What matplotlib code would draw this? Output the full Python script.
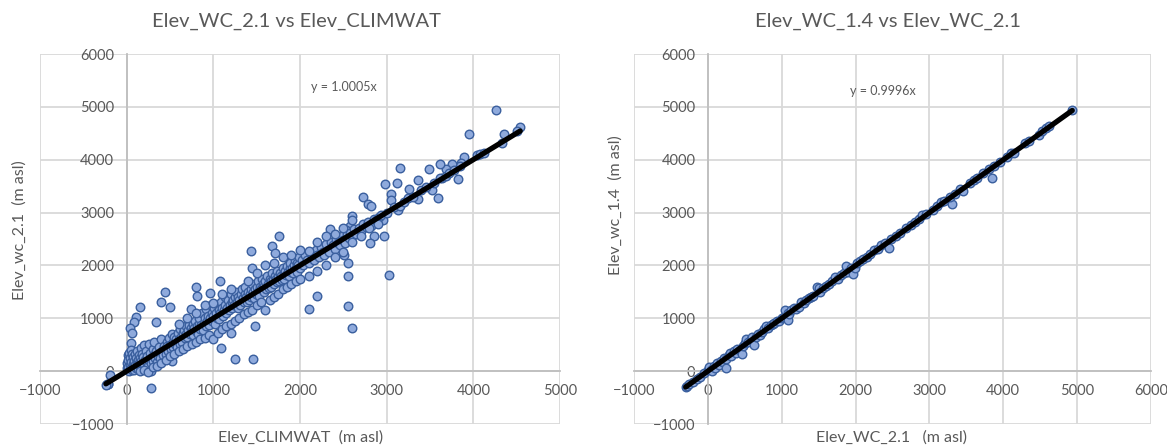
import matplotlib
matplotlib.use("Agg")
import matplotlib.pyplot as plt
import numpy as np

plt.rcParams['font.family'] = ['Lato', 'DejaVu Sans']

# ---------------- data ----------------
titles = ["Elev_WC_2.1 vs Elev_CLIMWAT", "Elev_WC_1.4 vs Elev_WC_2.1"]
xlabels = ["Elev_CLIMWAT  (m asl)", "Elev_WC_2.1   (m asl)"]
ylabels = ["Elev_wc_2.1  (m asl)", "Elev_wc_1.4  (m asl)"]
slopes = [1.0005, 0.9996]
eq_labels = ["y = 1.0005x", "y = 0.9996x"]
xticks_left = [-1000, 0, 1000, 2000, 3000, 4000, 5000]
xticks_right = [-1000, 0, 1000, 2000, 3000, 4000, 5000, 6000]
yticks = [-1000, 0, 1000, 2000, 3000, 4000, 5000, 6000]

# Left panel: Elev_CLIMWAT (x) vs Elev_WC_2.1 (y)
clim_x = [
    # outliers / isolated points
    4260, 3950, 4541, 4506, 4356, 4326, 4047, 4077, 4120, 3888, 3863, 3828, 3850,
    3755, 3690, 3618, 3640, 3159, 3489, 3519, 3592, 3361, 3262, 3356, 3116, 2983,
    3047, 3047, 3133, 2961, 2725, 2790, 2820, 2970, 2854, 2803, 2596, 2575, 2532,
    2348, 3026, 2554, 2554, 2554, 2601, 2511, 2197, 2103, 1760, 1674, 1717, 1438,
    1442, 1476, 1459, 1253, 1090, 1202, 1073, 803, 815, 957, 446, 395, 502, 738,
    150, 107, 86, 43, 56, 52, 335, 270, 279, -215, -193, 524, 283, -230, -220, -240,
    # dense band
    0, 5, 10, 15, 20, 25, 30, 35, 40, 45, 50, 55, 60, 65, 70, 75, 80, 85, 90, 95,
    100, 105, 110, 115, 120, 125, 130, 135, 140, 145, 150, 155, 160, 165, 170, 175,
    180, 185, 190, 195, 200, 210, 220, 230, 240, 250, 255, 260, 270, 280, 290, 300,
    305, 310, 320, 330, 340, 350, 360, 370, 380, 390, 400, 410, 420, 430, 440, 450,
    460, 470, 480, 490, 500, 510, 520, 530, 540, 550, 560, 570, 580, 590, 600, 610,
    620, 630, 640, 650, 660, 670, 680, 690, 700, 710, 720, 730, 740, 750, 760, 770,
    780, 790, 800, 810, 820, 830, 840, 850, 860, 870, 880, 890, 900, 910, 920, 930,
    940, 950, 960, 970, 980, 990, 1000, 1010, 1020, 1030, 1040, 1050, 1060, 1070,
    1080, 1090, 1100, 1110, 1120, 1130, 1140, 1150, 1160, 1170, 1180, 1190, 1200,
    1210, 1220, 1230, 1240, 1250, 1260, 1270, 1280, 1290, 1300, 1310, 1320, 1330,
    1340, 1350, 1360, 1370, 1380, 1390, 1400, 1410, 1420, 1430, 1440, 1450, 1460,
    1470, 1480, 1490, 1500, 1510, 1520, 1530, 1540, 1550, 1560, 1570, 1580, 1590,
    1600, 1610, 1620, 1630, 1640, 1650, 1660, 1670, 1680, 1690, 1700, 1710, 1720,
    1730, 1740, 1750, 1760, 1770, 1780, 1790, 1800, 1810, 1820, 1830, 1840, 1850,
    1860, 1870, 1880, 1890, 1900, 1910, 1920, 1930, 1940, 1950, 1960, 1970, 1980,
    1990, 2000, 2020, 2040, 2060, 2080, 2100, 2120, 2140, 2160, 2180, 2200, 2220,
    2240, 2260, 2280, 2300, 2320, 2340, 2360, 2380, 2400, 2420, 2440, 2460, 2480,
    2500, 2520, 2540, 2560, 2580, 2600, 2620, 2650, 2680, 2700, 2730, 2760, 2790,
    2820, 2850, 2880, 2910, 2940, 3000, 3080, 3150, 3200, 3250, 3300, 3400, 3450,
    3550, 3620, 3680, 3720, 3780,
    # lower edge of band
    150, 200, 250, 300, 350, 400, 450, 500, 550, 600, 650, 700, 750, 800, 850, 900,
    950, 1000, 1050, 1100, 1150, 1200, 1250, 1300, 1350, 1400, 1450, 1500, 1550,
    1600, 1650, 1700, 1750, 1800, 1850, 1900, 1950, 2000, 2100, 2200, 2300, 2400,
    2500, 2600, 2700, 2800, 2900,
    # upper edge of band
    600, 700, 800, 900, 1000, 1100, 1200, 1400, 1500, 1600, 1700, 1800, 1900, 2000,
    2100, 2200, 2300, 2400, 2500, 2600,
]
wc21_y = [
    4940, 4490, 4627, 4544, 4481, 4310, 4082, 4101, 4130, 4051, 3943, 3627, 3880,
    3911, 3816, 3924, 3658, 3848, 3816, 3418, 3278, 3614, 3449, 3259, 3563, 3532,
    3354, 3247, 3057, 2867, 3297, 3171, 3120, 2551, 2551, 2424, 2930, 2741, 2677,
    2696, 1816, 2044, 1804, 1241, 810, 2203, 1430, 1171, 2551, 2361, 2234, 2266,
    1949, 854, 222, 222, 443, 715, 1696, 1601, 1430, 1487, 1506, 1316, 1221, 1177,
    1221, 1031, 936, 810, 715, 525, 936, 462, -310, -234, -76, 196, 0, -252, -240, -260,
    50, 150, 300, 80, 220, 350, 10, 120, 250, 400, 60, 180, 320, 20, 140, 260, 90,
    200, 30, 330, 120, 240, 60, 170, 380, 100, 210, 40, 300, 150, 80, 250, 430, 120,
    200, 330, 60, 160, 270, 500, 110, 220, 380, 150, 280, 90, 520, 210, 350, 160,
    270, 420, 200, 310, 560, 240, 380, 180, 290, 460, 330, 240, 600, 380, 300, 480,
    420, 330, 560, 480, 380, 620, 500, 420, 700, 560, 460, 650, 520, 600, 450, 720,
    600, 520, 800, 650, 560, 720, 780, 620, 850, 700, 640, 780, 880, 700, 820, 760,
    900, 680, 820, 950, 760, 850, 700, 900, 1000, 800, 880, 1100, 780, 920, 1000,
    850, 1180, 950, 1050, 880, 1000, 1250, 1100, 950, 1050, 1200, 900, 1100, 1000,
    1250, 1150, 980, 1100, 1300, 1200, 1050, 1150, 1400, 1250, 1100, 1200, 1350,
    1150, 1250, 1450, 1300, 1200, 1350, 1250, 1400, 1500, 1300, 1200, 1400, 1350,
    1250, 1450, 1550, 1380, 1300, 1450, 1600, 1400, 1300, 1500, 1350, 1450, 1550,
    1400, 1650, 1500, 1380, 1550, 1450, 1600, 1700, 1500, 1420, 1600, 1550, 1750,
    1650, 1500, 1620, 1700, 1550, 1800, 1650, 1580, 1750, 1700, 1600, 1850, 1720,
    1650, 1800, 1750, 1680, 1900, 1780, 1700, 1850, 1800, 1720, 1950, 1850, 1750,
    1900, 1820, 1980, 1880, 1800, 1950, 2050, 1880, 1950, 1850, 2000, 2100, 1950,
    1880, 2050, 2000, 2150, 1950, 2100, 2000, 2200, 2100, 2050, 2250, 2150, 2100,
    2300, 2200, 2150, 2350, 2250, 2200, 2400, 2300, 2250, 2450, 2380, 2320, 2500,
    2420, 2380, 2550, 2480, 2420, 2600, 2520, 2620, 2550, 2680, 2600, 2700, 2650,
    2780, 2720, 2820, 2750, 2880, 2850, 2920, 2950, 3000, 3100, 3120, 3200, 3280,
    3300, 3420, 3480, 3560, 3650, 3700, 3740, 3800,
    0, 30, -20, 80, 100, 150, 220, 280, 330, 380, 420, 480, 520, 560, 600, 620,
    680, 600, 720, 800, 850, 900, 950, 1000, 1080, 1120, 1150, 1250, 1300, 1150,
    1350, 1400, 1450, 1550, 1600, 1650, 1700, 1750, 1800, 1900, 2000, 2150, 2250,
    2450, 2550, 2700, 2780,
    900, 1000, 1100, 1250, 1280, 1450, 1550, 1700, 1850, 2000, 2050, 2150, 2200,
    2300, 2280, 2450, 2550, 2600, 2700, 2850,
]

# Right panel: Elev_WC_2.1 (x) vs Elev_WC_1.4 (y)
wc21_x = [
    -300, -280, -250, -200, -150, -100, -50, 0, 20, 40, 60, 80, 100, 120, 150, 180,
    200, 220, 239, 250, 280, 300, 320, 350, 380, 400, 430, 460, 480, 500, 520, 550,
    580, 600, 620, 650, 680, 700, 730, 760, 790, 820, 850, 880, 900, 930, 960, 1000,
    1030, 1050, 1080, 1091, 1100, 1130, 1160, 1200, 1230, 1260, 1300, 1330, 1370,
    1400, 1430, 1482, 1500, 1520, 1560, 1600, 1640, 1680, 1720, 1760, 1800, 1840,
    1868, 1900, 1940, 1964, 1990, 2020, 2060, 2100, 2150, 2200, 2250, 2300, 2350,
    2400, 2447, 2480, 2550, 2600, 2680, 2750, 2800, 2860, 2900, 2960, 3050, 3100,
    3150, 3200, 3300, 3280, 3350, 3420, 3450, 3550, 3600, 3650, 3720, 3800, 3843,
    3880, 3950, 4050, 4100, 4150, 4300, 4350, 4480, 4520, 4580, 4620, 4934,
]
wc14_y = [
    -300, -290, -240, -210, -140, -110, -40, 20, 80, 30, 0, 100, 60, 150, 120, 200,
    180, 240, 51, 230, 300, 340, 280, 380, 350, 420, 400, 330, 470, 540, 600, 560,
    600, 650, 500, 640, 700, 690, 740, 800, 850, 810, 870, 900, 920, 950, 940, 1010,
    1020, 1150, 1100, 968, 1080, 1150, 1200, 1180, 1210, 1300, 1290, 1350, 1380,
    1410, 1420, 1601, 1580, 1500, 1570, 1620, 1650, 1700, 1780, 1750, 1820, 1850,
    1994, 1880, 1960, 1842, 1960, 2050, 2080, 2120, 2160, 2220, 2290, 2310, 2380,
    2420, 2329, 2500, 2560, 2610, 2700, 2760, 2830, 2880, 2950, 2980, 3040, 3120,
    3200, 3220, 3165, 3290, 3360, 3450, 3400, 3560, 3620, 3660, 3740, 3820, 3658,
    3880, 3960, 4060, 4120, 4130, 4310, 4360, 4470, 4540, 4600, 4630, 4943,
]

panels = [
    (clim_x, wc21_y, xticks_left),
    (wc21_x, wc14_y, xticks_right),
]

# ---------------- styling ----------------
W, H = 1167, 447
fig = plt.figure(figsize=(W / 100, H / 100), dpi=100)
TXT = '#595959'
GRID = '#D9D9D9'
AXC = '#BFBFBF'
FACE = '#8FAADC'
EDGE = '#3A5F9E'

axes_px = [(40, 560, 54, 424), (634, 1151, 54, 424)]
title_pos = [(296, 21), (888, 21)]
xlabel_pos = [(301, 438), (892, 438)]
ylabel_pos = [(20, 230), (616, 205)]
eq_pos = [(344, 87), (883, 91)]

for i, (xs, ys, xt) in enumerate(panels):
    l, r, t, b = axes_px[i]
    ax = fig.add_axes([l / W, 1 - b / H, (r - l) / W, (b - t) / H])
    ax.set_xlim(xt[0], xt[-1])
    ax.set_ylim(yticks[0], yticks[-1])
    ax.set_xticks(xt)
    ax.set_yticks(yticks)
    ax.grid(True, color=GRID, lw=1.3, zorder=0)
    ax.set_axisbelow(True)
    for s in ['top', 'right']:
        ax.spines[s].set_visible(False)
    ax.spines['left'].set_position(('data', 0))
    ax.spines['bottom'].set_position(('data', 0))
    for s in ['left', 'bottom']:
        ax.spines[s].set_color(AXC)
        ax.spines[s].set_linewidth(1.3)
        ax.spines[s].set_zorder(1)
    ax.tick_params(length=0, labelsize=10.5, labelcolor=TXT)
    ax.tick_params(axis='x', pad=9)
    ax.tick_params(axis='y', pad=9)

    ax.scatter(xs, ys, s=38, facecolor=FACE, edgecolor=EDGE, linewidths=1.0, zorder=3)
    xmin, xmax = min(xs), max(xs)
    lx = np.array([xmin, xmax], dtype=float)
    ax.plot(lx, slopes[i] * lx, color='black', lw=3.8, solid_capstyle='round', zorder=4)

    fig.text(title_pos[i][0] / W, 1 - title_pos[i][1] / H, titles[i], ha='center',
             va='center', fontsize=14.5, color=TXT)
    fig.text(xlabel_pos[i][0] / W, 1 - xlabel_pos[i][1] / H, xlabels[i], ha='center',
             va='center', fontsize=11.5, color=TXT)
    fig.text(ylabel_pos[i][0] / W, 1 - ylabel_pos[i][1] / H, ylabels[i], ha='center',
             va='center', fontsize=11.5, color=TXT, rotation=90)
    fig.text(eq_pos[i][0] / W, 1 - eq_pos[i][1] / H, eq_labels[i], ha='center',
             va='center', fontsize=9, color=TXT)

fig.savefig('out.png', dpi=100, facecolor='white')
